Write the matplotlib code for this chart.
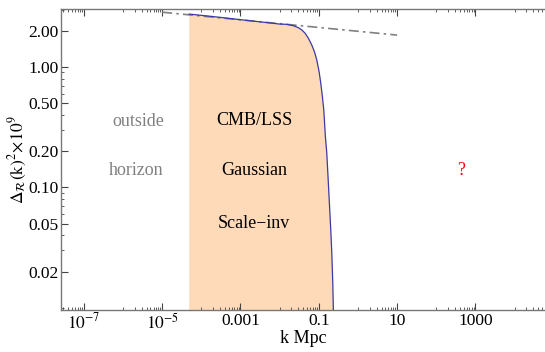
import matplotlib
matplotlib.use("Agg")
import matplotlib.pyplot as plt
from matplotlib.ticker import FixedLocator, NullFormatter

plt.rcParams['font.family'] = ['Liberation Serif', 'DejaVu Serif']
plt.rcParams['mathtext.fontset'] = 'stix'

# Power spectrum curve (k in 1/Mpc, Delta^2 x 1e9)
curve_k = [4.9e-5, 2.26e-4, 1.0e-3, 3.18e-3, 0.0103, 0.0153, 0.0225, 0.0302,
           0.0368, 0.0448, 0.0543, 0.0663, 0.0773, 0.0889, 0.1018, 0.1125,
           0.1236, 0.1342, 0.1423, 0.1474, 0.160, 0.1727, 0.1864, 0.2023,
           0.2147, 0.2277, 0.2355]
curve_p = [2.75, 2.61, 2.47, 2.37, 2.27, 2.26, 2.20, 2.12,
           2.03, 1.905, 1.73, 1.52, 1.34, 1.143, 0.914, 0.732,
           0.567, 0.44, 0.32, 0.264, 0.193, 0.12, 0.0744, 0.0444,
           0.0286, 0.0161, 0.0096]

# Scale-invariant (tilted) extrapolation, dash-dot line end points
extrap_k = [1.0e-5, 10.0]
extrap_p = [2.85, 1.84]

x_major = [1e-7, 1e-5, 1e-3, 1e-1, 1e1, 1e3]
x_labels = [r'$10^{-7}$', r'$10^{-5}$', '0.001', '0.1', '10', '1000']
y_major = [0.02, 0.05, 0.1, 0.2, 0.5, 1.0, 2.0]
y_labels = ['0.02', '0.05', '0.10', '0.20', '0.50', '1.00', '2.00']

fig = plt.figure(figsize=(5.45, 3.52), dpi=100)
ax = fig.add_axes([61/545, 1-310/352, 1-61/545, (310-9)/352])
ax.set_xscale('log')
ax.set_yscale('log')
ax.set_xlim(2.6e-8, 6.0e4)
ax.set_ylim(0.0096, 3.03)

ax.fill_between(curve_k, curve_p, 1e-4, color='#FFDAB9', lw=0, zorder=1)
ax.plot(curve_k, curve_p, color='#3a3aa6', lw=0.9, zorder=3)
ax.plot(extrap_k, extrap_p, color='#808080', lw=1.2, ls=(0, (6, 2.5, 1.5, 2.5)), zorder=2)

fs = 13
ax.text(2.5e-6, 0.356, 'outside', color='#808080', fontsize=fs, ha='center', va='center')
ax.text(2.2e-6, 0.137, 'horizon', color='#808080', fontsize=fs, ha='center', va='center')
ax.text(2.2e-3, 0.36, 'CMB/LSS', color='black', fontsize=fs, ha='center', va='center')
ax.text(2.2e-3, 0.137, 'Gaussian', color='black', fontsize=fs, ha='center', va='center')
ax.text(2.2e-3, 0.0498, 'Scale\u2212inv', color='black', fontsize=fs, ha='center', va='center')
ax.text(430, 0.137, '?', color='red', fontsize=fs, ha='center', va='center')

# ticks
ax.xaxis.set_major_locator(FixedLocator(x_major))
ax.set_xticklabels(x_labels)
xminor = []
for e in [-8, -6, -4, -2, 0, 2, 4]:
    for m in range(1, 10):
        xminor.append(m * 10.0**e)
ax.xaxis.set_minor_locator(FixedLocator(xminor))
ax.xaxis.set_minor_formatter(NullFormatter())

ax.yaxis.set_major_locator(FixedLocator(y_major))
ax.set_yticklabels(y_labels)
yminor = [0.01, 0.03, 0.04, 0.06, 0.07, 0.08, 0.09, 0.3, 0.4, 0.6, 0.7, 0.8, 0.9, 3.0]
ax.yaxis.set_minor_locator(FixedLocator(yminor))
ax.yaxis.set_minor_formatter(NullFormatter())

ax.tick_params(which='both', direction='in', top=True, right=False,
               labelsize=12.5, colors='#444444', labelcolor='black')
ax.tick_params(which='major', length=5, width=0.8)
ax.tick_params(which='minor', length=2.5, width=0.6)
ax.tick_params(axis='x', pad=2)
ax.tick_params(axis='y', pad=2)

for s in ['left', 'bottom', 'top']:
    ax.spines[s].set_color('#777777')
    ax.spines[s].set_linewidth(1.0)
ax.spines['right'].set_visible(False)

ax.set_xlabel('k Mpc', fontsize=fs, labelpad=-2)
ax.set_ylabel(r'$\Delta_{\mathcal{R}}(\mathrm{k})^{2}\!\times\!10^{9}$', fontsize=12.5, labelpad=-1)

fig.savefig('out.png', dpi=100)
